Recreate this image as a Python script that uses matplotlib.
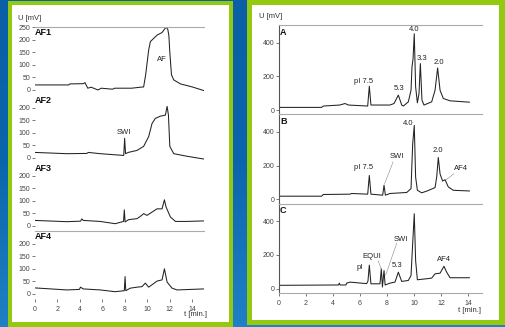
import numpy as np
import matplotlib
matplotlib.use("Agg")
import matplotlib.pyplot as plt
from matplotlib.patches import Rectangle

plt.rcParams['font.family'] = ['Liberation Sans', 'DejaVu Sans']

# ---- left panel: AF1..AF4 traces (t [min], U [mV])
af1_t = [0, 3.0, 3.1, 4.3, 4.45, 4.7, 5.0, 5.6, 5.9, 6.9, 7.1, 8.6, 9.4, 9.67, 9.85, 10.12, 10.27,
         10.57, 10.87, 11.31, 11.52, 11.67, 11.82, 11.92, 12.0, 12.15, 12.35, 12.95, 14.0, 15.0]
af1_v = [20, 20, 24, 25, 29, 7, 11, 0, 7, 3, 7, 7, 11, 12, 60, 159, 192,
         205, 218, 228, 241, 249, 241, 215, 150, 60, 40, 24, 12, -2]

af2_t = [0, 2.83, 4.6, 4.76, 5.8, 7.0, 7.9, 7.98, 8.06, 8.3, 9.08, 9.67, 10.12, 10.42, 10.71,
         11.16, 11.61, 11.76, 11.88, 12.0, 12.35, 13.5, 15.0]
af2_v = [22, 17, 18, 22, 17, 13, 10, 78, 17, 22, 30, 46, 85, 137, 157,
         166, 170, 205, 170, 46, 17, 7, -4]

af3_t = [0, 2.83, 4.05, 4.17, 4.3, 5.8, 7.14, 7.88, 7.95, 8.02, 8.33, 9.08, 9.38, 9.67, 9.97,
         10.86, 11.31, 11.52, 11.67, 12.05, 12.5, 13.5, 15.0]
af3_v = [22, 17, 19, 28, 22, 18, 9, 18, 64, 16, 25, 29, 38, 49, 42,
         68, 68, 104, 75, 36, 18, 18, 20]

af4_t = [0, 2.83, 3.95, 4.05, 4.3, 5.8, 7.14, 7.95, 8.02, 8.08, 8.48, 9.08, 9.52, 9.82, 10.12,
         10.86, 11.31, 11.52, 11.76, 12.2, 12.65, 15.0]
af4_v = [24, 16, 18, 27, 20, 16, 9, 13, 69, 13, 23, 27, 29, 43, 27,
         51, 56, 100, 47, 23, 16, 20]

left_traces = [(af1_t, af1_v), (af2_t, af2_v), (af3_t, af3_v), (af4_t, af4_v)]
left_names = ['AF1', 'AF2', 'AF3', 'AF4']

# ---- right panel: A, B, C traces
a_t = [0, 3.16, 3.28, 4.5, 4.89, 5.14, 6.57, 6.69, 6.81, 8.22, 8.52, 8.84, 9.09, 9.21, 9.58,
       9.78, 9.85, 9.93, 10.02, 10.12, 10.25, 10.37, 10.47, 10.59, 10.74, 11.31, 11.56, 11.75,
       11.93, 12.17, 12.67, 14.1]
a_v = [16, 16, 24, 30, 39, 30, 24, 142, 30, 30, 39, 89, 30, 24, 49,
       118, 256, 305, 453, 138, 43, 98, 276, 59, 30, 49, 118, 250,
       118, 69, 55, 47]

b_t = [0, 3.16, 3.28, 5.26, 5.38, 6.57, 6.69, 6.81, 7.68, 7.78, 7.88, 8.22, 9.46, 9.78, 9.9,
       10.02, 10.12, 10.25, 10.57, 10.94, 11.56, 11.68, 11.8, 11.93, 12.12, 12.3, 12.54, 12.91, 14.1]
b_v = [19, 19, 29, 31, 35, 31, 142, 31, 25, 84, 25, 35, 41, 64, 326,
       439, 132, 54, 39, 49, 70, 132, 249, 151, 109, 117, 74, 54, 50]

c_t = [0, 4.4, 4.47, 4.52, 4.96, 5.01, 5.26, 6.49, 6.59, 6.69, 6.81, 7.48, 7.58, 7.66, 7.78,
       7.86, 8.22, 8.59, 8.84, 9.09, 9.58, 9.78, 9.9, 10.02, 10.12, 10.25, 10.94, 11.31, 11.56,
       11.93, 12.22, 12.42, 12.67, 14.1]
c_v = [20, 22, 33, 22, 22, 33, 39, 30, 45, 140, 29, 29, 118, 10, 108,
       22, 33, 39, 98, 43, 49, 78, 265, 445, 167, 53, 59, 63, 88,
       92, 133, 98, 65, 65]

right_traces = [(a_t, a_v), (b_t, b_v), (c_t, c_v)]
right_names = ['A', 'B', 'C']

# peak labels: (panel, text, t, U)
peak_labels = [
    (0, 'pI 7.5', 6.3, 172), (0, '5.3', 8.9, 128), (0, '4.0', 10.0, 478),
    (0, '3.3', 10.6, 306), (0, '2.0', 11.85, 280),
    (1, 'pI 7.5', 6.25, 188), (1, 'SWI', 8.75, 255), (1, '4.0', 9.55, 452),
    (1, '2.0', 11.8, 293), (1, 'AF4', 13.45, 182),
    (2, 'pI', 6.0, 123), (2, 'EQUI', 6.86, 194), (2, 'SWI', 9.05, 290),
    (2, '5.3', 8.78, 137), (2, 'AF4', 12.2, 172),
]
# leader lines: (panel, t0, U0, t1, U1)
leaders = [
    (1, 8.45, 222, 7.82, 92), (1, 12.95, 152, 12.38, 116),
    (2, 7.35, 165, 7.57, 115), (2, 8.72, 270, 7.9, 80),
]
left_ticks_x = [0, 2, 4, 6, 8, 10, 12, 14]

W, H = 505, 327
BLUE = '#0b62a8'
GREEN = '#94c912'


def box(x0, y0, x1, y1):
    return [x0 / W, 1 - y1 / H, (x1 - x0) / W, (y1 - y0) / H]


fig = plt.figure(figsize=(W / 100, H / 100), dpi=100)
fig.patch.set_facecolor(BLUE)

# background gradient + frames, drawn in a full-figure axes
bg = fig.add_axes([0, 0, 1, 1])
grad = np.linspace(0, 1, 100).reshape(-1, 1)
bg.imshow(grad, aspect='auto', extent=[0, 1, 0, 1], origin='upper',
          cmap=matplotlib.colors.LinearSegmentedColormap.from_list('b', ['#0a5fa6', '#0b65ac', '#1f80c6']))
bg.set_xlim(0, 1)
bg.set_ylim(0, 1)
bg.set_axis_off()
for (x0, y0, x1, y1) in [(8, 1, 233, 327), (247, 0, 505, 325)]:
    bg.add_patch(Rectangle((x0 / W, 1 - y1 / H), (x1 - x0) / W, (y1 - y0) / H,
                           facecolor=GREEN, edgecolor='none'))
for (x0, y0, x1, y1) in [(12, 5, 229, 322), (252, 5, 499, 320)]:
    bg.add_patch(Rectangle((x0 / W, 1 - y1 / H), (x1 - x0) / W, (y1 - y0) / H,
                           facecolor='white', edgecolor='none'))

tick_kw = dict(labelsize=5, colors='#444444', length=2, width=0.5, pad=1.5)

# ---- left panel
tops = [27, 95, 163, 231]
for i, ((t, v), name) in enumerate(zip(left_traces, left_names)):
    ax = fig.add_axes(box(35, tops[i], 203.5, tops[i] + 68))
    ax.patch.set_alpha(0)
    ax.plot(t, v, color='#222222', lw=0.75)
    ax.set_xlim(0, 15)
    ax.set_ylim(-20, 250)
    ax.set_yticks([0, 50, 100, 150, 200, 250] if i == 0 else [0, 50, 100, 150, 200])
    for s in ['left', 'right', 'bottom']:
        ax.spines[s].set_visible(False)
    ax.spines['top'].set_visible(i in (0, 3))
    ax.spines['top'].set_color('#aaaaaa')
    ax.spines['top'].set_linewidth(0.8)
    ax.tick_params(axis='y', **tick_kw)
    if i == 3:
        ax.set_xticks(left_ticks_x)
        ax.tick_params(axis='x', **tick_kw)
        ax.tick_params(axis='x', pad=3)
    else:
        ax.set_xticks([])
    ax.text(0, 228, name, fontsize=6.5, fontweight='bold', ha='left', va='center', color='#111111')
    if i == 0:
        ax.text(11.3, 119, 'AF', fontsize=5.5, ha='center', va='center', color='#222222')
    if i == 1:
        ax.text(7.95, 100, 'SWI', fontsize=5.5, ha='center', va='center', color='#222222')

fig.text(18 / W, 1 - 18 / H, 'U [mV]', fontsize=5.5, color='#333333', ha='left', va='center')
fig.text(195 / W, 1 - 315 / H, 't [min.]', fontsize=5.5, color='#333333', ha='center', va='center')

# ---- right panel
rtops = [25, 114.3, 203.6]
for i, ((t, v), name) in enumerate(zip(right_traces, right_names)):
    ax = fig.add_axes(box(279, rtops[i], 481.5, rtops[i] + 89.3))
    ax.patch.set_alpha(0)
    ax.plot(t, v, color='#222222', lw=0.75)
    ax.set_xlim(0, 15)
    ax.set_ylim(-25, 505)
    ax.set_yticks([0, 200, 400])
    ax.spines['right'].set_visible(False)
    ax.spines['left'].set_color('#555555')
    ax.spines['left'].set_linewidth(0.8)
    ax.spines['top'].set_color('#aaaaaa')
    ax.spines['top'].set_linewidth(0.8)
    ax.spines['bottom'].set_visible(i == 2)
    ax.spines['bottom'].set_color('#aaaaaa')
    ax.spines['bottom'].set_linewidth(0.8)
    ax.tick_params(axis='y', **tick_kw)
    if i == 2:
        ax.set_xticks(left_ticks_x)
        ax.tick_params(axis='x', **tick_kw)
        ax.tick_params(axis='x', pad=3)
    else:
        ax.set_xticks([])
    ax.text(0.08, 462, name, fontsize=6.5, fontweight='bold', ha='left', va='center', color='#111111')
    for (p, txt, tx, ty) in peak_labels:
        if p == i:
            ax.text(tx, ty, txt, fontsize=5.5, ha='center', va='center', color='#222222')
    for (p, t0, u0, t1, u1) in leaders:
        if p == i:
            ax.plot([t0, t1], [u0, u1], color='#888888', lw=0.4)

fig.text(259 / W, 1 - 17 / H, 'U [mV]', fontsize=5.5, color='#333333', ha='left', va='center')
fig.text(470 / W, 1 - 311 / H, 't [min.]', fontsize=5.5, color='#333333', ha='center', va='center')

fig.savefig('out.png', dpi=100, facecolor=fig.get_facecolor())
